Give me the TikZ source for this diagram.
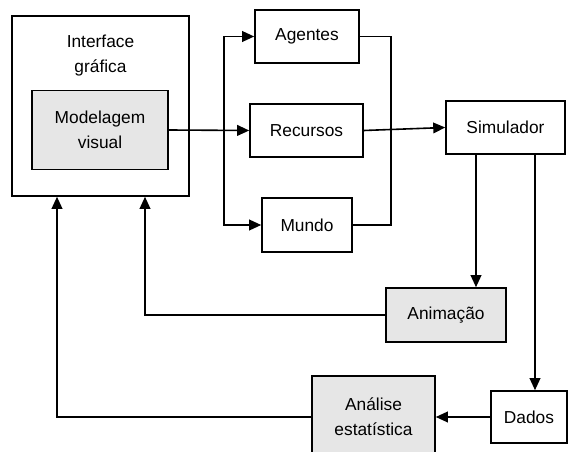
\documentclass[tikz,border=0pt]{standalone}
\usepackage{fontspec}
\setmainfont{Liberation Sans}
\usetikzlibrary{arrows.meta}
\definecolor{boxgray}{HTML}{E6E6E6}

\begin{document}
\begin{tikzpicture}[
    x=0.75pt, y=-0.75pt,
    font=\fontsize{13}{18.75}\selectfont,
    line width=1.2pt,
    >={Triangle[length=9pt,width=8pt]},
    block/.style={draw=black, line width=1.2pt, inner sep=0pt, align=center},
    shaded/.style={block, fill=boxgray}
]

% Pixel unit for sizes
\def\px{0.75pt}

% --- Frame of the picture ---
\useasboundingbox (0,0) rectangle (568,452);

% --- Boxes ---
\node[block, minimum width=177*\px, minimum height=180*\px] (iface) at (100.5,106) {};
\node[align=center] (ifacetitle) at (100.5,56) {Interface\\gráfica};
\node[shaded, minimum width=136*\px, minimum height=79*\px] (modelagem) at (100,130) {Modelagem\\visual};

\node[block, minimum width=104*\px, minimum height=53*\px] (agentes) at (307,36.5) {Agentes};
\node[block, minimum width=113*\px, minimum height=53*\px] (recursos) at (306.5,130.5) {Recursos};
\node[block, minimum width=90*\px, minimum height=54*\px] (mundo) at (307,225) {Mundo};

\node[block, minimum width=119*\px, minimum height=53*\px] (simulador) at (505.5,127.5) {Simulador};
\node[shaded, minimum width=120*\px, minimum height=54*\px] (animacao) at (446,315) {Animação};
\node[block, minimum width=76*\px, minimum height=52*\px] (dados) at (529,417) {Dados};
\node[shaded, minimum width=123*\px, minimum height=82*\px] (analise) at (373.5,417) {Análise\\estatística};

% --- Columns where the lines turn ---
\coordinate (split) at (224,0);
\coordinate (merge) at (391,0);
\coordinate (tapanim) at (476,0);
\coordinate (tapdados) at (535,0);
\coordinate (backanim) at (145,0);
\coordinate (backanalise) at (57,0);

% --- Model to its three parts ---
\draw[->] (modelagem.east) -- (recursos.west);
\draw[->] (modelagem.east -| split) |- (agentes.west);
\draw[->] (modelagem.east -| split) |- (mundo.west);

% --- Parts to the simulator ---
\draw (agentes.east) -| (merge |- mundo.east) -- (mundo.east);
\draw[->] (recursos.east) -- (simulador.west);

% --- Simulator outputs ---
\draw[->] (simulador.south -| tapanim) -- (animacao.north -| tapanim);
\draw[->] (simulador.south -| tapdados) -- (dados.north -| tapdados);
\draw[->] (dados.west) -- (analise.east);

% --- Feedback to the interface ---
\draw[->] (animacao.west) -| (iface.south -| backanim);
\draw[->] (analise.west) -| (iface.south -| backanalise);

\end{tikzpicture}
\end{document}
